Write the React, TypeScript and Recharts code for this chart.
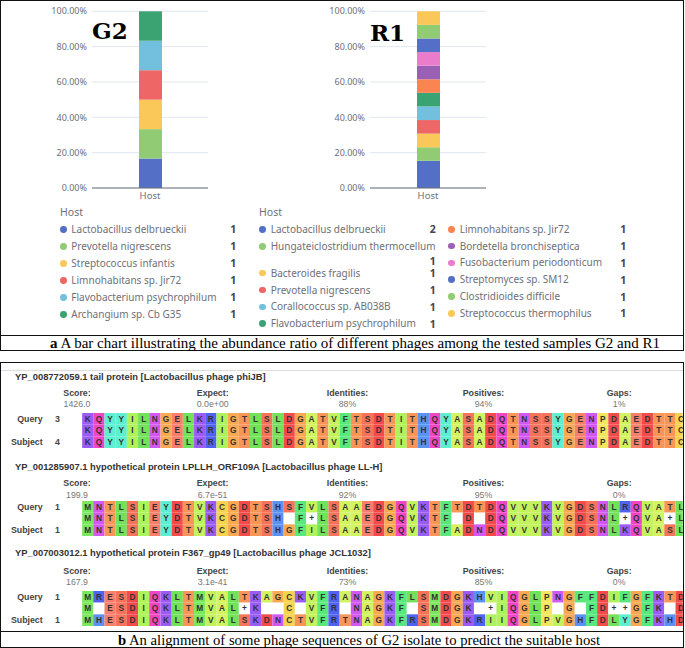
import React from 'react';
import { BarChart, Bar, XAxis, YAxis, CartesianGrid, ScatterChart, Scatter } from 'recharts';

// ---------- data: bar charts ----------
const category = 'Host';
const g2Hosts = [
  'Lactobacillus delbrueckii',
  'Prevotella nigrescens',
  'Streptococcus infantis',
  'Limnohabitans sp. Jir72',
  'Flavobacterium psychrophilum',
  'Archangium sp. Cb G35',
];
const g2Counts = [1, 1, 1, 1, 1, 1];
const r1Hosts = [
  'Lactobacillus delbrueckii',
  'Hungateiclostridium thermocellum',
  'Bacteroides fragilis',
  'Prevotella nigrescens',
  'Corallococcus sp. AB038B',
  'Flavobacterium psychrophilum',
  'Limnohabitans sp. Jir72',
  'Bordetella bronchiseptica',
  'Fusobacterium periodonticum',
  'Streptomyces sp. SM12',
  'Clostridioides difficile',
  'Streptococcus thermophilus',
];
const r1Counts = [2, 1, 1, 1, 1, 1, 1, 1, 1, 1, 1, 1];
const hostPalette = ['#5470C6', '#91CC75', '#FAC858', '#EE6666', '#73C0DE', '#3BA272', '#FC8452', '#9A60B4', '#EA7CCC'];
const percentTicks = [0, 0.2, 0.4, 0.6, 0.8, 1];
const captionA = ['a', ' A bar chart illustrating the abundance ratio of different phages among the tested samples G2 and R1'];
const captionB = ['b', ' An alignment of some phage sequences of G2 isolate to predict the suitable host'];

// ---------- data: alignments ----------
const alignTitles = [
  'YP_008772059.1 tail protein [Lactobacillus phage phiJB]',
  'YP_001285907.1 hypothetical protein LPLLH_ORF109A [Lactobacillus phage LL-H]',
  'YP_007003012.1 hypothetical protein F367_gp49 [Lactobacillus phage JCL1032]',
];
const statNames = ['Score:', 'Expect:', 'Identities:', 'Positives:', 'Gaps:'];
const alignScores = ['1426.0', '199.9', '167.9'];
const alignExpects = ['0.0e+00', '6.7e-51', '3.1e-41'];
const alignIdentities = ['88%', '92%', '73%'];
const alignPositives = ['94%', '95%', '85%'];
const alignGaps = ['1%', '0%', '0%'];
const queryStarts = [3, 1, 1];
const subjectStarts = [4, 1, 1];
const querySeqs = [
  'KQYYILNGELKRIGTLSLDGATVFTSDTITHQYASADQTNSSYGENPDAEDTTC',
  'MNTLSIEYDTVKCGDTSHSFVLSAAEDGQVKTFTDTDQVVVKVGDSNLRQVATL',
  'MRESDIQKLTMVALTKAGCKVFRANAGKFLSMDGKHVIQGLPNGFFDIFGFKTD',
];
const middleSeqs = [
  'KQYYILNGELKRIGTLSLDGATVFTSDTITHQYASADQTNSSYGENPDAEDTTC',
  'MNTLSIEYDTVKCGDTSH F+LSAAEDGQVKTF D DQVVVKVGDSNL+QVA+L',
  'M ESDIQKLTMVAL+K  C VFR NAGKF SMDGK +IQGLP G FD++GFK D',
];
const subjectSeqs = [
  'KQYYILNGELKRIGTLSLDGATVFTSDTITHQYASADQTNSSYGENPDAEDTTC',
  'MNTLSIEYDTVKCGDTSHGFILSAAEDGQVKTFADNDQVVVKVGDSNLKQVASL',
  'MHESDIQKLTMVALSKDNCTVFRTNAGKFRSMDGKRIIQGLPVGHFDLYGFKHD',
];
const aaColors: Record<string, string> = {
  K: '#9B5CF6', R: '#4F62F0', H: '#5B92F2', D: '#F24B4B', E: '#F8806A',
  S: '#F5735A', T: '#F99657', G: '#F8A952', N: '#D258F2', Q: '#F046C6',
  C: '#F5D350', P: '#F2E65E', Y: '#5EEFD2', A: '#D3F460', V: '#C3F35C',
  I: '#AEF25C', L: '#72E25A', M: '#7CE65C', F: '#58E87C', W: '#58D0A0',
};

// ---------- layout ----------
const SANS = '"Noto Sans", "DejaVu Sans", sans-serif';
const ARIAL = '"Liberation Sans", Arial, sans-serif';
const SERIF = '"Liberation Serif", "Times New Roman", serif';
const blockTitleY = [377.3, 466.7, 553.3];
const blockStatY = [392.7, 483.3, 571];
const blockValueY = [404.3, 495, 582.3];
const blockRowTop = [413.3, 501, 590.7];
const statLeft = [63.3, 196.7, 326.7, 462.7, 606.7];
const SEQ_LEFT = 82.1;
const SEQ_W = 683 - SEQ_LEFT;
const CELL_W = 11.2;
const ROW_H = 11.67;

function Txt({ x, y, children, style }: any) {
  return (
    <div style={{ position: 'absolute', left: x, top: y - 6, height: 12, lineHeight: '12px', whiteSpace: 'nowrap', ...style }}>
      {children}
    </div>
  );
}

function StackChart({ hosts, counts, left }: any) {
  const row: any = { name: category };
  hosts.forEach((h: string, i: number) => (row['s' + i] = counts[i]));
  return (
    <div style={{ position: 'absolute', left, top: 0 }}>
      <BarChart width={212} height={218} data={[row]} stackOffset="expand" barSize={23}
        margin={{ top: 11.3, right: 4, bottom: 0, left: 0 }}>
        <CartesianGrid vertical={false} stroke="#E0E6F1" />
        <XAxis dataKey="name" axisLine={{ stroke: '#6E7079' }} tickLine={false} tickSize={2} tickMargin={2} height={30}
          tick={{ fontSize: 9.5, fill: '#6E7079', fontFamily: SANS }} />
        <YAxis type="number" domain={[0, 1]} ticks={percentTicks} width={92} axisLine={false} tickLine={false}
          tickSize={3} tickMargin={2} tickFormatter={(v: number) => (v * 100).toFixed(2) + '%'}
          tick={{ fontSize: 9, fill: '#6E7079', fontFamily: SANS }} />
        {hosts.map((h: string, i: number) => (
          <Bar key={h + i} dataKey={'s' + i} stackId="a" fill={hostPalette[i % hostPalette.length]} isAnimationActive={false} />
        ))}
      </BarChart>
    </div>
  );
}

function LegendItem({ x, y, color, name, value, valueX, valueY }: any) {
  return (
    <>
      <div style={{ position: 'absolute', left: x - 3.4, top: y - 3.4, width: 6.8, height: 6.8, borderRadius: '50%', background: color }} />
      <div style={{ position: 'absolute', left: x + 8, top: y - 5.5, height: 11, lineHeight: '11px', whiteSpace: 'nowrap', fontSize: 10, color: '#6E7079', fontFamily: SANS }}>{name}</div>
      <div style={{ position: 'absolute', left: valueX - 10, width: 20, top: (valueY ?? y) - 5, height: 10, lineHeight: '10px', textAlign: 'center', fontSize: 10.5, fontWeight: 700, color: '#464646', fontFamily: SANS }}>{value}</div>
    </>
  );
}

function CellShape(props: any) {
  const { cx, cy, payload } = props;
  if (cx == null || cy == null) return null;
  const ch: string = payload.ch;
  const fill = aaColors[ch] || '#FFFFFF';
  return (
    <g>
      <rect x={cx - CELL_W / 2} y={cy - ROW_H / 2} width={CELL_W} height={ROW_H} fill={fill} />
      {ch !== ' ' && (
        <text x={cx} y={cy + 3} textAnchor="middle" fontSize={8.3} fontWeight={700} fill="#333" fontFamily={ARIAL}>{ch}</text>
      )}
    </g>
  );
}

function AlignBlock({ i }: any) {
  const rows = [querySeqs[i], middleSeqs[i], subjectSeqs[i]];
  const data: any[] = [];
  rows.forEach((seq, r) => seq.split('').forEach((ch, c) => data.push({ col: c + 1, row: r + 1, ch })));
  const vals = [alignScores[i], alignExpects[i], alignIdentities[i], alignPositives[i], alignGaps[i]];
  const top = blockRowTop[i];
  const lab = { fontSize: 8.8, fontWeight: 700, color: '#444', fontFamily: ARIAL };
  return (
    <>
      <Txt x={15} y={blockTitleY[i]} style={{ fontSize: 9.4, fontWeight: 700, color: '#333', fontFamily: ARIAL }}>{alignTitles[i]}</Txt>
      {statNames.map((s, k) => (
        <div key={s} style={{ position: 'absolute', left: statLeft[k], top: blockStatY[i] - 6, display: 'flex', flexDirection: 'column', alignItems: 'center', whiteSpace: 'nowrap' }}>
          <div style={{ ...lab, lineHeight: '12px', height: 12 }}>{s}</div>
          <div style={{ fontSize: 8.8, color: '#777', fontFamily: ARIAL, lineHeight: '12px', height: 12, marginTop: blockValueY[i] - blockStatY[i] - 12 }}>{vals[k]}</div>
        </div>
      ))}
      <div style={{ position: 'absolute', left: 0, width: 42.7, top: top + ROW_H / 2 - 6, lineHeight: '12px', textAlign: 'right', ...lab }}>Query</div>
      <Txt x={55} y={top + ROW_H / 2} style={lab}>{queryStarts[i]}</Txt>
      <div style={{ position: 'absolute', left: 0, width: 42.7, top: top + ROW_H * 2.5 - 6, lineHeight: '12px', textAlign: 'right', ...lab }}>Subject</div>
      <Txt x={55} y={top + ROW_H * 2.5} style={lab}>{subjectStarts[i]}</Txt>
      <div style={{ position: 'absolute', left: SEQ_LEFT, top, width: SEQ_W, height: ROW_H * 3, overflow: 'hidden' }}>
        <ScatterChart width={SEQ_W} height={ROW_H * 3} margin={{ top: 0, right: 0, bottom: 0, left: 0 }}>
          <XAxis type="number" dataKey="col" domain={[0.5, 0.5 + SEQ_W / CELL_W]} allowDataOverflow hide />
          <YAxis type="number" dataKey="row" domain={[0.5, 3.5]} reversed hide />
          <Scatter data={data} shape={<CellShape />} isAnimationActive={false} />
        </ScatterChart>
      </div>
    </>
  );
}

export default function App() {
  return (
    <div style={{ position: 'absolute', left: 0, top: 0, width: 685, height: 648, background: '#fff', overflow: 'hidden' }}>
      {/* panel a frame */}
      <div style={{ position: 'absolute', left: 0, top: 0, width: 684, height: 351, border: '1px solid #111', boxSizing: 'border-box' }} />
      <div style={{ position: 'absolute', left: 0, top: 335, width: 684, height: 1, background: '#111' }} />
      {/* panel b frame */}
      <div style={{ position: 'absolute', left: 0, top: 362, width: 684, height: 286, border: '1px solid #111', boxSizing: 'border-box' }} />
      <div style={{ position: 'absolute', left: 1, top: 370, width: 682, height: 1, background: '#ddd' }} />
      <div style={{ position: 'absolute', left: 0, top: 631, width: 684, height: 1, background: '#111' }} />

      <StackChart hosts={g2Hosts} counts={g2Counts} left={0} />
      <StackChart hosts={r1Hosts} counts={r1Counts} left={278} />
      <Txt x={92} y={31.3} style={{ fontSize: 23, fontWeight: 900, fontFamily: '"DejaVu Serif", serif', color: '#000', lineHeight: '12px' }}>G2</Txt>
      <Txt x={370} y={33} style={{ fontSize: 23, fontWeight: 900, fontFamily: '"DejaVu Serif", serif', color: '#000', lineHeight: '12px' }}>R1</Txt>

      {/* legends */}
      <Txt x={60} y={212} style={{ fontSize: 10.5, color: '#6E7079', fontFamily: SANS }}>{category}</Txt>
      {g2Hosts.map((h, i) => (
        <LegendItem key={h} x={63.3} y={229.3 + i * 17} color={hostPalette[i % hostPalette.length]} name={h} value={g2Counts[i]} valueX={233.3} />
      ))}
      <Txt x={259} y={212} style={{ fontSize: 10.5, color: '#6E7079', fontFamily: SANS }}>{category}</Txt>
      {r1Hosts.slice(0, 6).map((h, i) => {
        const y = 229.3 + i * 16.9 + (i >= 2 ? 10 : 0);
        return (
          <LegendItem key={h} x={262.7} y={y} color={hostPalette[i % hostPalette.length]} name={h} value={r1Counts[i]} valueX={432.7} valueY={i === 1 ? 260.5 : y} />
        );
      })}
      {r1Hosts.slice(6).map((h, j) => {
        const i = j + 6;
        const y = 229.3 + j * 16.8;
        return (
          <LegendItem key={h} x={451.7} y={y} color={hostPalette[i % hostPalette.length]} name={h} value={r1Counts[i]} valueX={623.3} />
        );
      })}

      {/* caption a */}
      <div style={{ position: 'absolute', left: 0, width: 710, top: 336, height: 15, lineHeight: '15px', textAlign: 'center', fontFamily: SERIF, fontSize: 15, color: '#000', whiteSpace: 'nowrap' }}>
        <b>{captionA[0]}</b>{captionA[1]}
      </div>

      {[0, 1, 2].map((i) => <AlignBlock key={i} i={i} />)}

      {/* caption b */}
      <div style={{ position: 'absolute', left: 0, width: 718, top: 632, height: 16, lineHeight: '16px', textAlign: 'center', fontFamily: SERIF, fontSize: 14.7, color: '#000', whiteSpace: 'nowrap' }}>
        <b>{captionB[0]}</b>{captionB[1]}
      </div>
    </div>
  );
}
